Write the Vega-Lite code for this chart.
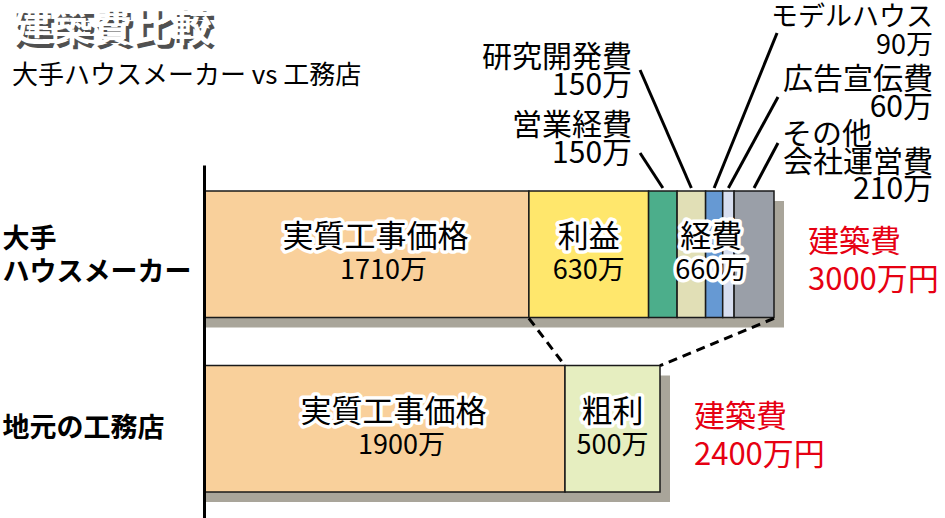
{
  "$schema": "https://vega.github.io/schema/vega-lite/v6.json",
  "width": 741,
  "height": 418,
  "autosize": {"type": "none"},
  "padding": {"left": 204, "top": 100, "right": 0, "bottom": 0},
  "background": "white",
  "config": {"view": {"stroke": null}, "font": "Noto Sans CJK JP"},
  "title": {
    "text": "建築費比較",
    "subtitle": "大手ハウスメーカー vs 工務店",
    "anchor": "start",
    "frame": "group",
    "orient": "top",
    "dx": -192,
    "offset": -85,
    "font": "Noto Sans CJK JP",
    "fontSize": 40,
    "fontWeight": "bold",
    "color": "white",
    "subtitleFont": "Noto Sans CJK JP",
    "subtitleFontSize": 26,
    "subtitleColor": "black",
    "subtitlePadding": 14
  },
  "datasets": {
    "segments": [
      {"bar": "大手|ハウスメーカー", "name": "実質工事価格", "group": "実質工事価格", "value": 1710, "order": 1},
      {"bar": "大手|ハウスメーカー", "name": "利益", "group": "利益", "value": 630, "order": 2},
      {"bar": "大手|ハウスメーカー", "name": "営業経費", "group": "経費", "value": 150, "order": 3},
      {"bar": "大手|ハウスメーカー", "name": "研究開発費", "group": "経費", "value": 150, "order": 4},
      {"bar": "大手|ハウスメーカー", "name": "モデルハウス", "group": "経費", "value": 90, "order": 5},
      {"bar": "大手|ハウスメーカー", "name": "広告宣伝費", "group": "経費", "value": 60, "order": 6},
      {"bar": "大手|ハウスメーカー", "name": "その他会社運営費", "group": "経費", "value": 210, "order": 7},
      {"bar": "地元の工務店", "name": "実質工事価格", "group": "実質工事価格", "value": 1900, "order": 1},
      {"bar": "地元の工務店", "name": "粗利", "group": "粗利", "value": 500, "order": 2}
    ],
    "links": [
      {"top": "大手|ハウスメーカー", "bottom": "地元の工務店", "from": 1710, "to": 1900},
      {"top": "大手|ハウスメーカー", "bottom": "地元の工務店", "from": 3000, "to": 2400}
    ]
  },
  "layer": [
    {
      "data": {"name": "segments"},
      "transform": [
        {"stack": "value", "groupby": ["bar"], "sort": [{"field": "order"}], "as": ["s0", "s1"]}
      ],
      "layer": [
        {
          "transform": [{"aggregate": [{"op": "min", "field": "s0", "as": "start"}, {"op": "max", "field": "s1", "as": "total"}], "groupby": ["bar"]}],
          "mark": {"type": "bar", "color": "#a9a59a", "x2Offset": 10, "yOffset": 10},
          "encoding": {
            "x": {"field": "start", "type": "quantitative", "scale": {"domain": [0, 3900], "nice": false, "zero": true},
              "axis": {"orient": "top", "domain": false, "ticks": false, "labels": false, "grid": false,
                "title": "建築費比較", "titleFont": "Noto Sans CJK JP", "titleFontSize": 40, "titleFontWeight": "bold",
                "titleColor": "#505050", "titleAlign": "left", "titleBaseline": "top", "titleAnchor": "start",
                "titleX": -189, "titleY": -88, "titlePadding": 0}},
            "x2": {"field": "total"},
            "y": {"field": "bar", "type": "nominal", "sort": null,
              "scale": {"domain": ["大手|ハウスメーカー", "地元の工務店"], "range": [65, 418], "paddingInner": 0.274, "paddingOuter": 0.149},
              "axis": {"title": null, "domain": true, "domainColor": "black", "domainWidth": 3, "ticks": false, "grid": false,
                "labelAlign": "left", "labelPadding": 202, "labelFont": "Noto Sans CJK JP", "labelFontSize": 27,
                "labelFontWeight": "bold", "labelColor": "black", "labelLineHeight": 33, "labelBaseline": "middle", "labelLimit": 400,
                "labelOffset": {"condition": {"test": "datum.value == '地元の工務店'", "value": 0}, "value": -14},
                "labelExpr": "split(datum.value, '|')", "zindex": 1}}
          }
        },
        {
          "mark": {"type": "bar", "stroke": "#1a1a1a", "strokeWidth": 1.5},
          "encoding": {
            "x": {"field": "s0", "type": "quantitative"},
            "x2": {"field": "s1"},
            "y": {"field": "bar", "type": "nominal", "sort": null},
            "color": {"field": "name", "type": "nominal", "legend": null,
              "scale": {"domain": ["実質工事価格", "利益", "営業経費", "研究開発費", "モデルハウス", "広告宣伝費", "その他会社運営費", "粗利"],
                "range": ["#f9d09b", "#ffe76c", "#4cae8b", "#e1dfb6", "#6699d3", "#d7def0", "#9a9fa8", "#e6eec0"]}}
          }
        }
      ]
    },
    {
      "data": {"name": "links"},
      "mark": {"type": "rule", "stroke": "black", "strokeWidth": 3, "strokeDash": [9, 6], "yOffset": 64, "y2Offset": -63},
      "encoding": {
        "x": {"field": "from", "type": "quantitative"},
        "x2": {"field": "to"},
        "y": {"field": "top", "type": "nominal"},
        "y2": {"field": "bottom"}
      }
    },
    {
      "data": {"name": "segments"},
      "transform": [
        {"stack": "value", "groupby": ["bar"], "sort": [{"field": "order"}], "as": ["s0", "s1"]},
        {"calculate": "(datum.s0 + datum.s1) / 2", "as": "mid"},
        {"calculate": "datum.name + '|' + datum.value + '万'", "as": "callout"}
      ],
      "layer": [
        {
          "transform": [
            {"aggregate": [{"op": "min", "field": "s0", "as": "a"}, {"op": "max", "field": "s1", "as": "b"}, {"op": "sum", "field": "value", "as": "amount"}], "groupby": ["bar", "group"]},
            {"calculate": "(datum.a + datum.b) / 2", "as": "gmid"},
            {"calculate": "datum.amount + '万'", "as": "gamt"}
          ],
          "layer": [
            {
              "mark": {"type": "text", "fontSize": 31, "font": "Noto Sans CJK JP", "stroke": "white", "strokeWidth": 7, "strokeJoin": "round", "fill": "white", "yOffset": -16, "baseline": "middle",
                "dx": {"expr": "datum.group == '実質工事価格' ? 9 : 0"}},
              "encoding": {"x": {"field": "gmid", "type": "quantitative"}, "y": {"field": "bar", "type": "nominal"}, "text": {"field": "group"}}
            },
            {
              "mark": {"type": "text", "fontSize": 31, "font": "Noto Sans CJK JP", "fill": "black", "yOffset": -16, "baseline": "middle",
                "dx": {"expr": "datum.group == '実質工事価格' ? 9 : 0"}},
              "encoding": {"x": {"field": "gmid", "type": "quantitative"}, "y": {"field": "bar", "type": "nominal"}, "text": {"field": "group"}}
            },
            {
              "transform": [{"filter": "datum.group == '経費'"}],
              "mark": {"type": "text", "fontSize": 27, "font": "Noto Sans CJK JP", "stroke": "white", "strokeWidth": 7, "strokeJoin": "round", "fill": "white", "yOffset": 17, "baseline": "middle"},
              "encoding": {"x": {"field": "gmid", "type": "quantitative"}, "y": {"field": "bar", "type": "nominal"}, "text": {"field": "gamt"}}
            },
            {
              "mark": {"type": "text", "fontSize": 27, "font": "Noto Sans CJK JP", "fill": "black", "yOffset": 17, "baseline": "middle",
                "dx": {"expr": "datum.group == '実質工事価格' ? 17 : 0"}},
              "encoding": {"x": {"field": "gmid", "type": "quantitative"}, "y": {"field": "bar", "type": "nominal"}, "text": {"field": "gamt"}}
            },
            {
              "transform": [{"calculate": "'建築費|' + datum.b + '万円'", "as": "tlabel"}, {"filter": "datum.group == '経費' || datum.group == '粗利'"}],
              "mark": {"type": "text", "align": "left", "baseline": "middle", "lineBreak": "|", "lineHeight": 38, "dx": 34, "yOffset": -11,
                "fontSize": 31, "font": "Noto Sans CJK JP", "fill": "#e60012"},
              "encoding": {"x": {"field": "b", "type": "quantitative"}, "y": {"field": "bar", "type": "nominal"}, "text": {"field": "tlabel"}}
            }
          ]
        },
        {
          "transform": [{"filter": "datum.name == '研究開発費'"}, {"calculate": "2295", "as": "lx"}, {"calculate": "2253", "as": "tx"}],
          "layer": [
            {"mark": {"type": "rule", "stroke": "black", "strokeWidth": 3, "yOffset": -66.3, "y2Offset": -184.3},
              "encoding": {"x": {"field": "mid", "type": "quantitative"}, "x2": {"field": "lx"}, "y": {"field": "bar", "type": "nominal"}, "y2": {"field": "bar"}}},
            {"mark": {"type": "text", "align": "right", "baseline": "middle", "lineBreak": "|", "lineHeight": 28, "fontSize": 30, "font": "Noto Sans CJK JP", "fill": "black", "yOffset": -196},
              "encoding": {"x": {"field": "tx", "type": "quantitative"}, "y": {"field": "bar", "type": "nominal"}, "text": {"field": "callout"}}}
          ]
        },
        {
          "transform": [{"filter": "datum.name == '営業経費'"}, {"calculate": "2295", "as": "lx"}, {"calculate": "2253", "as": "tx"}],
          "layer": [
            {"mark": {"type": "rule", "stroke": "black", "strokeWidth": 3, "yOffset": -66.3, "y2Offset": -101.3},
              "encoding": {"x": {"field": "mid", "type": "quantitative"}, "x2": {"field": "lx"}, "y": {"field": "bar", "type": "nominal"}, "y2": {"field": "bar"}}},
            {"mark": {"type": "text", "align": "right", "baseline": "middle", "lineBreak": "|", "lineHeight": 28, "fontSize": 30, "font": "Noto Sans CJK JP", "fill": "black", "yOffset": -128},
              "encoding": {"x": {"field": "tx", "type": "quantitative"}, "y": {"field": "bar", "type": "nominal"}, "text": {"field": "callout"}}}
          ]
        },
        {
          "transform": [{"filter": "datum.name == 'モデルハウス'"}, {"calculate": "3016", "as": "lx"}, {"calculate": "3837", "as": "tx"}],
          "layer": [
            {"mark": {"type": "rule", "stroke": "black", "strokeWidth": 3, "yOffset": -66.3, "y2Offset": -221.3},
              "encoding": {"x": {"field": "mid", "type": "quantitative"}, "x2": {"field": "lx"}, "y": {"field": "bar", "type": "nominal"}, "y2": {"field": "bar"}}},
            {"mark": {"type": "text", "align": "right", "baseline": "middle", "lineBreak": "|", "lineHeight": 28, "fontSize": 27, "font": "Noto Sans CJK JP", "fill": "black", "yOffset": -236},
              "encoding": {"x": {"field": "tx", "type": "quantitative"}, "y": {"field": "bar", "type": "nominal"}, "text": {"field": "callout"}}}
          ]
        },
        {
          "transform": [{"filter": "datum.name == '広告宣伝費'"}, {"calculate": "3021", "as": "lx"}, {"calculate": "3837", "as": "tx"}],
          "layer": [
            {"mark": {"type": "rule", "stroke": "black", "strokeWidth": 3, "yOffset": -66.3, "y2Offset": -157.3},
              "encoding": {"x": {"field": "mid", "type": "quantitative"}, "x2": {"field": "lx"}, "y": {"field": "bar", "type": "nominal"}, "y2": {"field": "bar"}}},
            {"mark": {"type": "text", "align": "right", "baseline": "middle", "lineBreak": "|", "lineHeight": 28, "fontSize": 30, "font": "Noto Sans CJK JP", "fill": "black", "yOffset": -174},
              "encoding": {"x": {"field": "tx", "type": "quantitative"}, "y": {"field": "bar", "type": "nominal"}, "text": {"field": "callout"}}}
          ]
        },
        {
          "transform": [{"filter": "datum.name == 'その他会社運営費'"}, {"calculate": "3021", "as": "lx"}, {"calculate": "3837", "as": "tx"}, {"calculate": "3042", "as": "ox"},
            {"calculate": "'会社運営費|' + datum.value + '万'", "as": "callout2"}],
          "layer": [
            {"mark": {"type": "rule", "stroke": "black", "strokeWidth": 3, "yOffset": -66.3, "y2Offset": -111.3},
              "encoding": {"x": {"field": "mid", "type": "quantitative"}, "x2": {"field": "lx"}, "y": {"field": "bar", "type": "nominal"}, "y2": {"field": "bar"}}},
            {"mark": {"type": "text", "align": "left", "baseline": "middle", "fontSize": 30, "font": "Noto Sans CJK JP", "fill": "black", "yOffset": -119, "text": "その他"},
              "encoding": {"x": {"field": "ox", "type": "quantitative"}, "y": {"field": "bar", "type": "nominal"}}},
            {"mark": {"type": "text", "align": "right", "baseline": "middle", "lineBreak": "|", "lineHeight": 27, "fontSize": 30, "font": "Noto Sans CJK JP", "fill": "black", "yOffset": -91},
              "encoding": {"x": {"field": "tx", "type": "quantitative"}, "y": {"field": "bar", "type": "nominal"}, "text": {"field": "callout2"}}}
          ]
        }
      ]
    }
  ]
}
